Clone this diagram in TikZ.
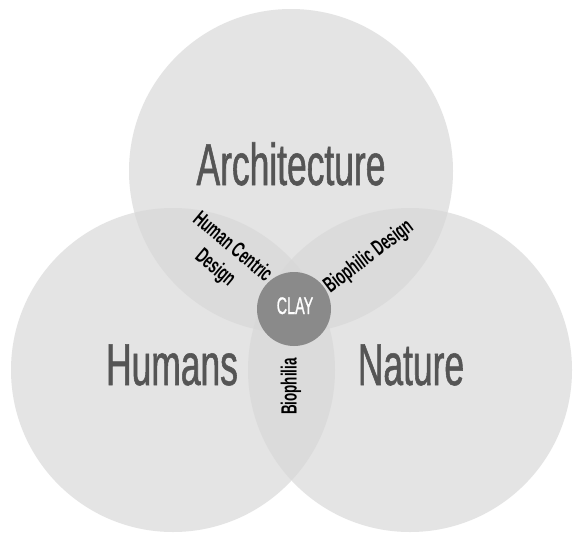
\documentclass[tikz,border=0pt]{standalone}
\usepackage{fontspec}
\setmainfont{Liberation Sans}[FakeStretch=0.6,FakeBold=0.9]
\newfontfamily\lblfont{Liberation Sans Bold}[FakeStretch=0.61]
\definecolor{setgray}{RGB}{215,215,215}
\definecolor{claygray}{RGB}{138,138,138}
\definecolor{bigtext}{RGB}{85,85,85}
\begin{document}
\begin{tikzpicture}[x=1pt,y=-1pt,
  setcircle/.style={circle, fill=setgray, fill opacity=0.67, draw=none, minimum size=324pt, inner sep=0pt},
  claycircle/.style={circle, fill=claygray, draw=none, minimum size=74pt, inner sep=0pt},
  bigtxt/.style={font=\fontsize{59}{60}\selectfont, text=bigtext, inner sep=0pt, anchor=base},
  claytxt/.style={font=\fontsize{24}{26}\selectfont, text=white, inner sep=0pt, anchor=base},
  lbltxt/.style={font=\lblfont\fontsize{22}{27}\selectfont, text=black, inner sep=0pt, align=center}]
\fill[white] (0,0) rectangle (573,533);
\useasboundingbox (0,0) rectangle (573,533);
\node[setcircle] (arch) at (291,171) {};
\node[setcircle] (hum) at (173,370) {};
\node[setcircle] (nat) at (410,370) {};
\node[claycircle] (clay) at (294,309) {};
\node[bigtxt] (archtxt) at (291,185) {Architecture};
\node[bigtxt] (humtxt) at (172,385) {Humans};
\node[bigtxt] (nattxt) at (411,385) {Nature};
\node[claytxt] (claylbl) at (295,314) {CLAY};
\node[lbltxt, rotate=-40] (hcd) at (223.5,258) {Human Centric\\Design};
\node[lbltxt, rotate=37] (bd) at (369,257) {Biophilic Design};
\node[lbltxt, rotate=90] (bio) at (291,386.5) {Biophilia};
\end{tikzpicture}
\end{document}
